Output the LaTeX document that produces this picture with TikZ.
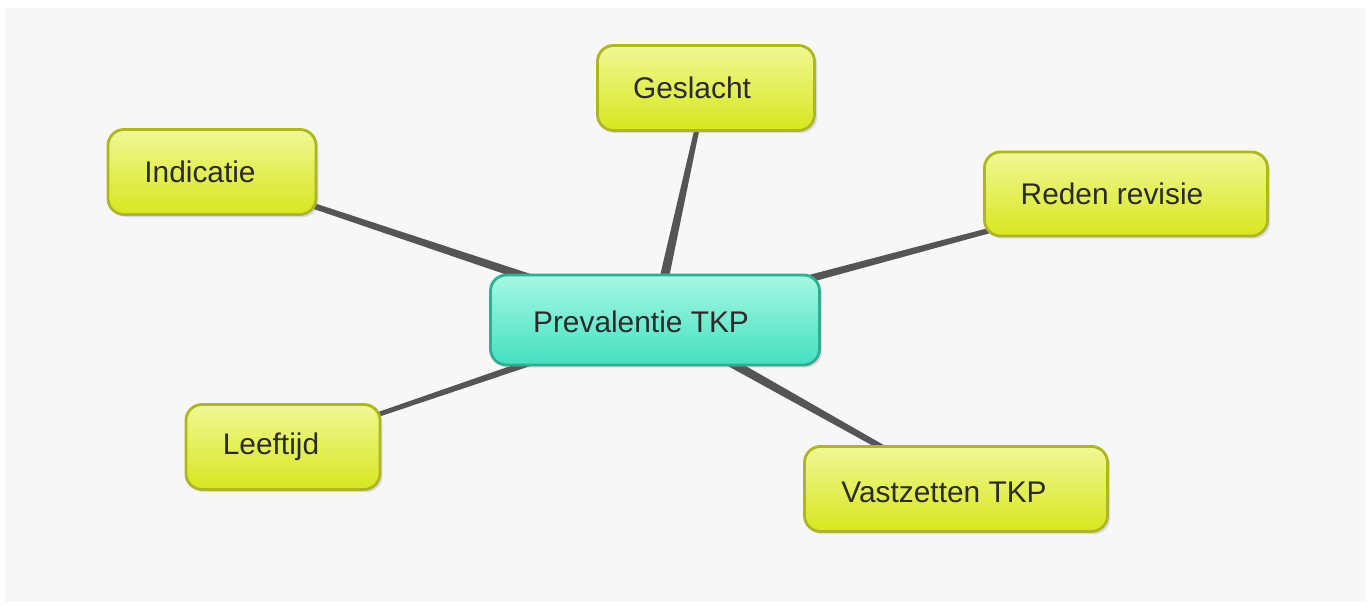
\documentclass[tikz,border=0pt]{standalone}
\usepackage{fontspec}
\setmainfont{Liberation Sans}
\usetikzlibrary{calc,shadows}
\definecolor{spokegray}{HTML}{555555}
\definecolor{leafrim}{HTML}{AEB622}
\definecolor{leaftop}{HTML}{F0F894}
\definecolor{leafmid}{HTML}{E4F02C}
\definecolor{leafbot}{HTML}{D8E61E}
\definecolor{hubrim}{HTML}{2FAE92}
\definecolor{hubtop}{HTML}{A6F8E4}
\definecolor{hubmid}{HTML}{62EFD0}
\definecolor{hubbot}{HTML}{44E0C0}
\definecolor{labeltext}{HTML}{2B2B2B}
\definecolor{paper}{HTML}{F7F7F7}
\def\pxu{0.02cm}
\tikzset{
  box/.style={rounded corners=0.32cm, line width=1.6pt,
    drop shadow={opacity=0.22, shadow xshift=1.5pt, shadow yshift=-1.5pt}},
  leaf/.style={box, draw=leafrim, top color=leaftop, middle color=leafmid,
    bottom color=leafbot, minimum height=85*\pxu},
  hub/.style={box, draw=hubrim, top color=hubtop, middle color=hubmid,
    bottom color=hubbot, minimum height=90*\pxu},
  boxtext/.style={text=labeltext, font=\fontsize{17}{20}\selectfont},
  spoke/.style={fill=spokegray},
}
% tapered connector between two nodes: #1 from, #2 to, #3 half width at #1, #4 half width at #2
\newcommand\taperline[4]{%
  \fill[spoke] ($(#1)!#3!90:(#2)$) -- ($(#2)!#4!-90:(#1)$) --
    ($(#2)!#4!90:(#1)$) -- ($(#1)!#3!-90:(#2)$) -- cycle;}
\begin{document}
\begin{tikzpicture}[x=0.02cm,y=-0.02cm]
\useasboundingbox (0,0) rectangle (1370,607);
\fill[white] (0,0) rectangle (1370,607);
\fill[paper] (5,8) rectangle (1366,602);

% node positions
\coordinate (phub) at (655,320);
\coordinate (pges) at (706,88);
\coordinate (pind) at (212,172);
\coordinate (pred) at (1126,194);
\coordinate (plee) at (283,447);
\coordinate (pvas) at (956,489);

% spokes drawn first, so the boxes cover their ends
\taperline{phub}{pges}{5.2*\pxu}{1.9*\pxu}
\taperline{phub}{pind}{5.0*\pxu}{2.2*\pxu}
\taperline{phub}{pred}{4.6*\pxu}{1.9*\pxu}
\taperline{phub}{plee}{4.0*\pxu}{1.8*\pxu}
\taperline{phub}{pvas}{5.2*\pxu}{2.2*\pxu}

\node[hub, minimum width=329*\pxu,
  label={[boxtext, xshift=-14*\pxu, yshift=-2*\pxu]center:Prevalentie TKP}] (hub) at (phub) {};
\node[leaf, minimum width=217*\pxu,
  label={[boxtext, xshift=-14*\pxu]center:Geslacht}] (geslacht) at (pges) {};
\node[leaf, minimum width=208*\pxu,
  label={[boxtext, xshift=-12*\pxu]center:Indicatie}] (indicatie) at (pind) {};
\node[leaf, minimum width=283*\pxu, minimum height=84*\pxu,
  label={[boxtext, xshift=-14*\pxu]center:Reden revisie}] (reden) at (pred) {};
\node[leaf, minimum width=194*\pxu,
  label={[boxtext, xshift=-12*\pxu]center:Leeftijd}] (leeftijd) at (plee) {};
\node[leaf, minimum width=303*\pxu,
  label={[boxtext, xshift=-12*\pxu, yshift=-3*\pxu]center:Vastzetten TKP}] (vastzetten) at (pvas) {};
\end{tikzpicture}
\end{document}
